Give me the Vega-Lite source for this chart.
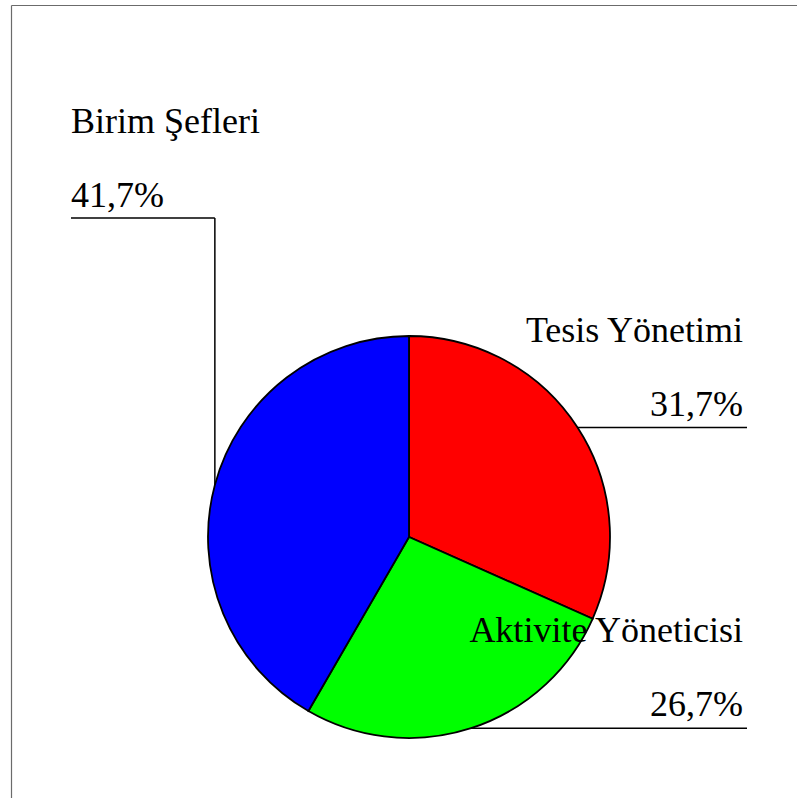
{
  "$schema": "https://vega.github.io/schema/vega-lite/v6.json",
  "width": 786,
  "height": 793,
  "autosize": {"type": "none"},
  "padding": {"left": 11, "top": 5, "right": 0, "bottom": 0},
  "background": "white",
  "config": {
    "view": {"stroke": null},
    "axis": {"grid": false, "ticks": false, "labels": false, "title": null, "domainColor": "#6b6b6b", "domainWidth": 1.2},
    "text": {"font": "Liberation Serif", "fontSize": 36, "color": "black"}
  },
  "data": {
    "values": [
      {"kategori": "Tesis Yönetimi", "oran": 31.7},
      {"kategori": "Aktivite Yöneticisi", "oran": 26.7},
      {"kategori": "Birim Şefleri", "oran": 41.7}
    ]
  },
  "transform": [
    {"window": [{"op": "sum", "field": "oran", "as": "bitis"}], "frame": [null, 0], "ignorePeers": true},
    {"joinaggregate": [{"op": "sum", "field": "oran", "as": "toplam"}]},
    {"calculate": "(datum.bitis - datum.oran / 2) / datum.toplam * 2 * PI", "as": "orta"},
    {"calculate": "201 * sin(datum.orta)", "as": "ex"},
    {"calculate": "-201 * cos(datum.orta)", "as": "ey"},
    {"calculate": "datum.ex > 0 ? 338 : -338", "as": "cizgiX2"},
    {"calculate": "datum.ex > 0 ? datum.ey : -319", "as": "cizgiY"},
    {"calculate": "replace(format(datum.oran, '.1f'), '.', ',') + '%'", "as": "etiket"}
  ],
  "layer": [
    {
      "mark": {"type": "arc", "radius": 201, "stroke": "black", "strokeWidth": 1.8},
      "encoding": {
        "x": {"datum": 0, "type": "quantitative", "scale": {"domain": [-398, 388], "nice": false, "zero": false}, "axis": {"orient": "top"}},
        "y": {"datum": 0, "type": "quantitative", "scale": {"domain": [-532, 261], "nice": false, "zero": false, "reverse": true}, "axis": {"orient": "left"}},
        "theta": {"field": "oran", "type": "quantitative", "stack": true},
        "order": {"field": "bitis", "type": "quantitative"},
        "color": {
          "field": "kategori",
          "type": "nominal",
          "scale": {"domain": ["Tesis Yönetimi", "Aktivite Yöneticisi", "Birim Şefleri"], "range": ["#FF0000", "#00FF00", "#0000FF"]},
          "legend": null
        }
      }
    },
    {
      "mark": {"type": "rule", "color": "black", "strokeWidth": 1.5},
      "encoding": {
        "x": {"field": "ex", "type": "quantitative", "axis": {"orient": "top"}},
        "x2": {"field": "cizgiX2"},
        "y": {"field": "cizgiY", "type": "quantitative", "axis": {"orient": "left"}}
      }
    },
    {
      "transform": [{"filter": "datum.ex < 0"}],
      "mark": {"type": "rule", "color": "black", "strokeWidth": 1.5},
      "encoding": {
        "x": {"field": "ex", "type": "quantitative", "axis": {"orient": "top"}},
        "y": {"field": "ey", "type": "quantitative", "axis": {"orient": "left"}},
        "y2": {"field": "cizgiY"}
      }
    },
    {
      "transform": [{"filter": "datum.ex > 0"}],
      "mark": {"type": "text", "font": "Liberation Serif", "align": "right", "baseline": "alphabetic", "dx": -4, "dy": -12},
      "encoding": {
        "x": {"field": "cizgiX2", "type": "quantitative", "axis": {"orient": "top"}},
        "y": {"field": "cizgiY", "type": "quantitative", "axis": {"orient": "left"}},
        "text": {"field": "etiket"}
      }
    },
    {
      "transform": [{"filter": "datum.ex > 0"}],
      "mark": {"type": "text", "font": "Liberation Serif", "align": "right", "baseline": "alphabetic", "dx": -4, "dy": -86},
      "encoding": {
        "x": {"field": "cizgiX2", "type": "quantitative", "axis": {"orient": "top"}},
        "y": {"field": "cizgiY", "type": "quantitative", "axis": {"orient": "left"}},
        "text": {"field": "kategori"}
      }
    },
    {
      "transform": [{"filter": "datum.ex < 0"}],
      "mark": {"type": "text", "font": "Liberation Serif", "align": "left", "baseline": "alphabetic", "dx": 0, "dy": -11},
      "encoding": {
        "x": {"field": "cizgiX2", "type": "quantitative", "axis": {"orient": "top"}},
        "y": {"field": "cizgiY", "type": "quantitative", "axis": {"orient": "left"}},
        "text": {"field": "etiket"}
      }
    },
    {
      "transform": [{"filter": "datum.ex < 0"}],
      "mark": {"type": "text", "font": "Liberation Serif", "align": "left", "baseline": "alphabetic", "dx": 0, "dy": -85},
      "encoding": {
        "x": {"field": "cizgiX2", "type": "quantitative", "axis": {"orient": "top"}},
        "y": {"field": "cizgiY", "type": "quantitative", "axis": {"orient": "left"}},
        "text": {"field": "kategori"}
      }
    }
  ]
}
